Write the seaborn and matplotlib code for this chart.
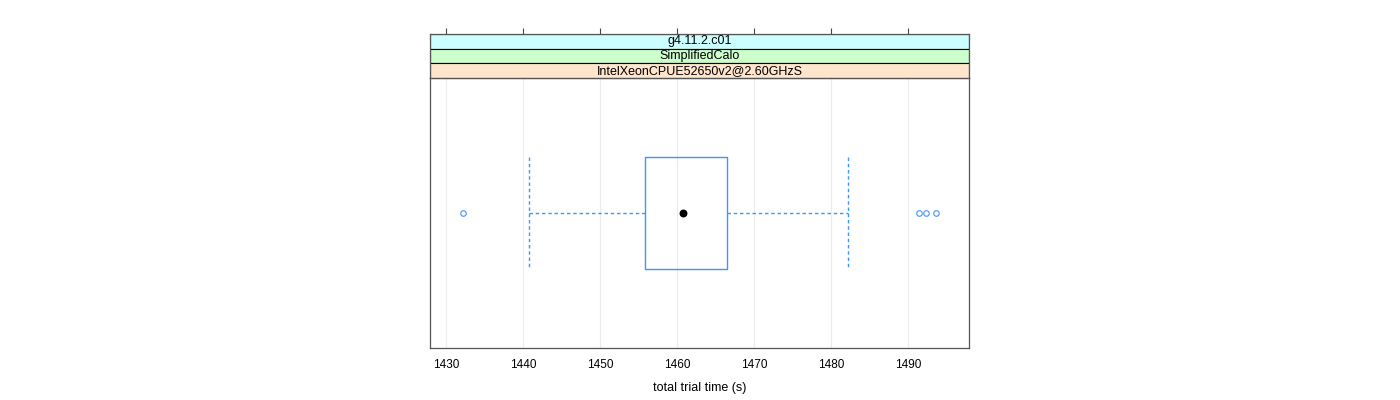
import numpy as np
import seaborn as sns
import matplotlib.pyplot as plt
from matplotlib.patches import Rectangle

# trial times (s)
times = [1432.2, 1440.8, 1449.0, 1453.0, 1455.85, 1457.4, 1458.6, 1459.9,
         1460.75, 1462.0, 1463.5, 1465.0, 1466.45, 1482.2, 1491.4, 1492.3, 1493.6]
strip_labels = ['g4.11.2.c01', 'SimplifiedCalo', 'IntelXeonCPUE52650v2@2.60GHzS']
strip_colors = ['#CCFFFF', '#CCFFCC', '#FFE5CC']
xticks = [1430, 1440, 1450, 1460, 1470, 1480, 1490]

sns.set_style('white')
plt.rcParams['font.family'] = ['Liberation Sans', 'DejaVu Sans']
plt.rcParams['text.color'] = 'black'
plt.rcParams['xtick.color'] = 'black'
plt.rcParams['axes.labelcolor'] = 'black'

blue = '#3f95ff'
W, H = 1400, 400
fig = plt.figure(figsize=(14, 4), dpi=100)

# main panel
ax = fig.add_axes([430 / W, 1 - 348 / H, (969 - 430) / W, (348 - 78) / H])
for x in xticks:
    ax.axvline(x, color='#ececec', lw=0.8, zorder=0)
n_grid = len(ax.lines)

sns.boxplot(x=times, width=0.5, whis=1.5, fill=False, ax=ax,
            color=blue, linecolor=blue, saturation=1, linewidth=1.0,
            whiskerprops=dict(linestyle=(0, (2.5, 2))),
            capprops=dict(linestyle=(0, (2.5, 2))),
            medianprops=dict(visible=False),
            flierprops=dict(marker='o', markerfacecolor='none', markeredgecolor=blue,
                            markersize=4, markeredgewidth=0.8),
            capwidths=0.5)
# force the lattice blue on box, whiskers and caps
for line in ax.lines[n_grid:]:
    line.set_color(blue)
ax.scatter([np.median(times)], [0], color='black', s=22, zorder=5)

ax.set_xlim(1427.9, 1497.9)
ax.set_ylim(0.6, -0.6)
ax.set_yticks([])
ax.set_xticks(xticks)
ax.set_xticklabels([str(t) for t in xticks], fontsize=8.5)
ax.tick_params(axis='x', direction='out', length=4, width=0.8, color='#444444', pad=4)
ax.set_xlabel('total trial time (s)', fontsize=9, labelpad=8)
for s in ax.spines.values():
    s.set_color('#555555')
    s.set_linewidth(0.9)

# conditioning strips on top
sax = fig.add_axes([430 / W, 1 - 78 / H, (969 - 430) / W, (78 - 34) / H], sharex=ax)
sax.set_ylim(0, 3)
sax.set_yticks([])
trans = sax.get_yaxis_transform()
for i, (lab, col) in enumerate(zip(strip_labels, strip_colors)):
    y0 = 2 - i
    sax.add_patch(Rectangle((0, y0), 1, 1, transform=trans, facecolor=col,
                            edgecolor='black', lw=0.8))
    sax.text(0.5, y0 + 0.5, lab, transform=trans, ha='center', va='center', fontsize=9)
sax.xaxis.tick_top()
sax.set_xticks(xticks)
sax.tick_params(axis='x', direction='out', length=4, width=0.8, color='#444444',
                labeltop=False, labelbottom=False)
for s in sax.spines.values():
    s.set_color('#555555')
    s.set_linewidth(0.9)

fig.savefig('out.png', dpi=100)
